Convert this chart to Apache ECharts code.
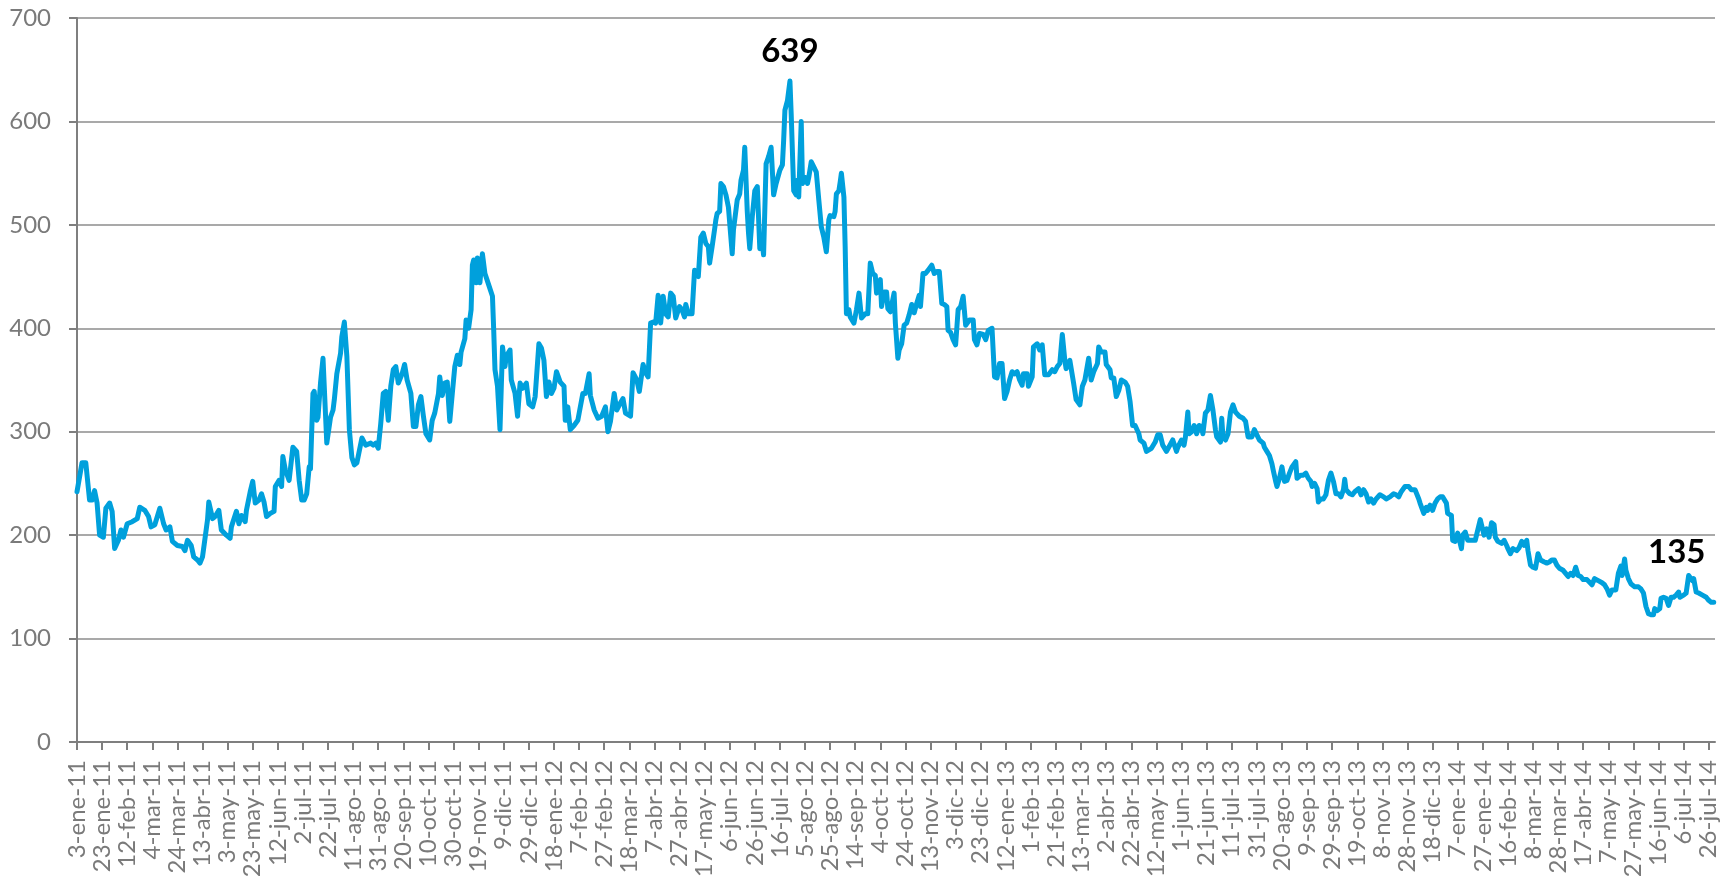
<!DOCTYPE html>
<html>
<head>
<meta charset="utf-8">
<script src="https://cdn.jsdelivr.net/npm/echarts@6/dist/echarts.min.js"></script>
<style>
html,body{margin:0;padding:0;background:#fff;}
#chart{width:1728px;height:876px;}
</style>
</head>
<body>
<div id="chart"></div>
<script>
// x values: calendar days since the first date (3-ene-11)
const startDate = '2011-01-03';
const monthAbbr = ['ene','feb','mar','abr','may','jun','jul','ago','sep','oct','nov','dic'];
const tickStepDays = 20;
const lastTickDay = 1300;
const axisMaxDay = 1305;

const dayOffsets = [
0,4,7,10,12,14,16,18,21,23,
26,28,30,33,35,37,40,44,48,50,
54,57,59,62,66,69,71,74,76,80,
84,86,88,91,93,96,98,100,104,105,
108,110,113,115,119,122,123,127,129,131,
134,135,138,140,142,145,147,149,151,154,
157,158,161,163,164,166,169,172,175,177,
179,181,183,185,186,188,189,191,192,194,
196,199,202,204,205,207,210,211,213,
215,217,219,221,223,227,230,234,236,238,
240,242,244,246,248,250,252,254,256,259,
261,263,266,268,270,272,274,276,278,281,
283,285,288,289,291,293,295,297,299,301,
303,305,306,309,310,312,314,315,316,318,
319,321,323,325,328,331,332,333,335,337,
339,341,342,345,346,349,351,353,355,358,
360,363,365,368,370,372,374,376,378,380,
382,385,388,389,391,393,396,399,401,403,
405,408,409,412,415,418,421,423,425,
428,430,433,435,437,441,443,446,448,451,
453,455,457,459,461,463,465,467,469,471,
473,475,477,480,482,484,485,487,490,492,
493,495,497,499,501,503,504,506,508,509,
510,512,513,515,517,519,522,523,526,528,
529,531,532,534,535,536,538,540,542,544,
546,547,549,551,553,555,557,560,562,563,
564,566,568,569,571,573,574,575,577,578,
580,582,583,585,587,589,591,593,595,597,
599,600,603,604,605,607,608,609,611,612,
613,615,616,619,621,623,625,628,630,632,
634,636,637,640,641,643,645,646,648,
651,652,654,655,657,659,661,663,665,667,
669,671,672,674,676,678,681,683,685,687,
689,691,693,694,696,698,700,702,704,706,
708,711,714,715,717,719,722,724,726,729,
730,731,733,735,737,739,741,743,745,747,
749,751,753,754,757,758,761,762,765,767,
769,771,774,777,779,781,783,785,787,788,
791,794,796,799,801,803,806,808,810,813,
814,816,819,820,823,824,826,828,830,832,
835,837,839,841,843,846,847,850,852,853,
856,859,861,863,865,868,
873,876,877,880,882,883,885,886,888,890,
892,894,896,897,899,901,903,905,907,908,
911,912,913,915,917,919,921,923,924,926,
929,931,933,936,938,940,942,945,946,948,
950,952,953,955,956,958,960,962,964,966,
968,971,972,975,977,979,981,983,984,986,
988,989,991,993,995,997,999,1001,1003,1005,
1007,1009,1010,1011,1014,1016,1018,1021,1023,1025,
1027,1029,1031,1033,1035,1038,1041,1043,1046,1049,
1051,1053,1055,1058,1061,1063,1066,1069,1070,1073,
1075,1076,1078,1080,1082,1084,1086,
1088,1091,1092,1095,1096,1098,1100,1101,1103,1104,
1106,1108,1111,1114,1115,1118,1119,1121,1123,1125,
1127,1129,1130,1132,1135,1137,1139,1140,1142,1144,
1147,1149,1151,1153,1155,1156,1158,1160,1162,1164,
1166,1169,1171,1173,1175,1177,1179,1181,1184,1186,
1188,1190,1192,1194,1196,1198,1200,1203,1204,1207,
1209,1212,1215,1217,1219,1221,1223,1226,1228,1230,
1231,1233,1234,1236,1238,1241,1244,1246,1248,1250,
1252,1254,1256,1257,1259,1261,1262,1264,1266,1268,
1270,1272,1274,1276,1277,1280,1282,1284,1285,1287,
1288,1290,1292,1295,1298,1300,1302,1304
];

const values = [
242,270,270,234,234,243,231,200,198,226,
231,223,187,195,205,198,211,213,216,227,
224,218,208,210,226,211,205,208,194,190,
189,185,195,190,179,176,173,179,215,232,
216,218,224,205,200,197,208,223,211,219,
213,224,242,252,231,234,240,232,218,221,
223,247,253,247,276,263,253,285,281,253,
234,234,240,266,264,337,339,311,314,347,
371,289,314,321,331,356,376,392,406,
373,302,275,268,270,294,287,289,287,289,
284,308,337,339,311,344,360,363,347,356,
365,350,337,305,305,326,334,315,298,292,
311,318,337,353,335,347,348,310,337,363,
374,365,377,390,408,400,418,461,466,444,
468,444,472,453,442,431,398,360,344,302,
382,363,373,379,350,337,315,347,342,347,
327,324,334,385,381,369,334,348,337,342,
358,348,344,311,324,302,306,311,324,337,
337,356,335,321,313,315,324,300,310,
337,321,328,332,318,315,357,350,339,365,
357,353,405,406,405,432,405,431,414,411,
434,431,410,421,418,411,423,414,414,456,
456,450,488,492,482,479,463,479,496,505,
511,513,540,537,529,517,472,495,524,530,
543,553,575,513,492,477,508,533,537,477,
482,471,559,566,575,529,540,553,558,582,
611,620,639,607,533,529,543,527,600,540,
546,540,546,561,556,551,524,498,488,474,
505,509,508,513,530,533,541,550,527,479,
414,418,411,405,418,434,410,414,414,463,
453,451,434,447,421,435,435,419,416,
434,405,371,379,385,403,405,413,423,415,
424,432,421,453,453,456,461,453,455,455,
424,423,421,398,396,389,384,418,421,431,
403,408,408,389,384,395,394,389,398,400,
400,353,352,366,366,332,339,350,358,356,
358,350,345,356,356,344,353,382,385,379,
384,355,355,360,358,363,366,394,369,361,
369,347,331,326,344,350,371,350,358,366,
382,377,377,365,360,352,352,334,340,350,
348,344,329,306,306,298,292,289,281,282,
284,290,297,297,287,281,
292,281,285,292,287,294,319,298,300,306,
298,306,305,298,318,321,335,321,302,295,
290,313,295,292,298,319,326,319,319,315,
313,310,295,295,302,297,292,289,285,281,
277,269,263,252,247,255,266,252,253,260,
266,271,255,258,258,260,255,252,247,250,
245,232,235,235,239,253,260,252,240,240,
237,244,254,244,240,239,242,245,239,244,
240,232,235,231,235,239,237,235,237,240,
239,237,242,247,247,244,244,235,231,221,
227,224,229,224,231,235,237,
237,231,221,219,195,194,202,197,187,200,
203,195,195,195,200,215,210,200,206,198,
212,210,198,194,192,195,190,187,182,187,
185,188,194,190,195,185,171,169,168,182,
176,174,173,174,176,176,171,168,166,163,
160,163,161,169,161,160,157,157,156,152,
158,156,154,152,148,142,147,147,163,170,
161,177,166,158,153,150,150,148,144,131,
124,123,123,129,127,129,139,140,139,132,
140,140,142,145,140,142,144,161,160,156,
158,145,144,142,140,137,135,135
];

// annotated points: [dayOffset, value, label]
const peakLabel = [568, 639, '639'];
const lastLabel = [1304, 135, '135'];

const yTicks = [0,100,200,300,400,500,600,700];

const base = Date.UTC(2011,0,3);
function dayLabel(d){
  const dt = new Date(base + d*86400000);
  return dt.getUTCDate() + '-' + monthAbbr[dt.getUTCMonth()] + '-' + String(dt.getUTCFullYear()).slice(2);
}
const tickDays = [];
for (let d = 0; d <= lastTickDay; d += tickStepDays) tickDays.push(d);

const n = Math.min(dayOffsets.length, values.length);
const seriesData = [];
for (let i = 0; i < n; i++) seriesData.push([dayOffsets[i], values[i]]);

const textGray = '#7a7a7a';
const font = 'Lato, "Open Sans", sans-serif';

const chart = echarts.init(document.getElementById('chart'));
chart.setOption({
  animation: false,
  backgroundColor: '#ffffff',
  grid: { left: 77, right: 13, top: 18, bottom: 134, containLabel: false, outerBoundsMode: 'none' },
  xAxis: {
    type: 'value',
    min: 0,
    max: axisMaxDay,
    interval: tickStepDays,
    splitLine: { show: false },
    axisLine: { show: true, lineStyle: { color: '#7f7f7f', width: 2 } },
    axisTick: { show: true, length: 8, customValues: tickDays, lineStyle: { color: '#7f7f7f', width: 2 } },
    axisLabel: {
      customValues: tickDays,
      rotate: 90,
      margin: 18,
      fontSize: 24,
      fontFamily: font,
      color: textGray,
      hideOverlap: false,
      showMinLabel: true,
      showMaxLabel: true,
      formatter: v => dayLabel(v)
    }
  },
  yAxis: {
    type: 'value',
    min: yTicks[0],
    max: yTicks[yTicks.length-1],
    interval: 100,
    axisLine: { show: true, lineStyle: { color: '#7f7f7f', width: 2 } },
    axisTick: { show: true, length: 8, lineStyle: { color: '#7f7f7f', width: 2 } },
    splitLine: { show: true, lineStyle: { color: '#8c8c8c', width: 1.5 } },
    axisLabel: { margin: 26, fontSize: 24, fontFamily: font, color: textGray }
  },
  series: [{
    type: 'line',
    data: seriesData,
    showSymbol: false,
    symbol: 'none',
    lineStyle: { color: '#00A0DC', width: 5, join: 'round', cap: 'round' },
    itemStyle: { color: '#00A0DC' },
    markPoint: {
      symbol: 'circle',
      symbolSize: 0,
      data: [
        { coord: [peakLabel[0], peakLabel[1]], value: peakLabel[2],
          label: { show: true, position: 'inside', offset: [0, -30], formatter: peakLabel[2],
                   fontSize: 33, fontWeight: 'bold', fontFamily: font, color: '#000' } },
        { coord: [lastLabel[0], lastLabel[1]], value: lastLabel[2],
          label: { show: true, position: 'inside', offset: [-37, -50], formatter: lastLabel[2],
                   fontSize: 33, fontWeight: 'bold', fontFamily: font, color: '#000' } }
      ]
    }
  }]
});
</script>
</body>
</html>
